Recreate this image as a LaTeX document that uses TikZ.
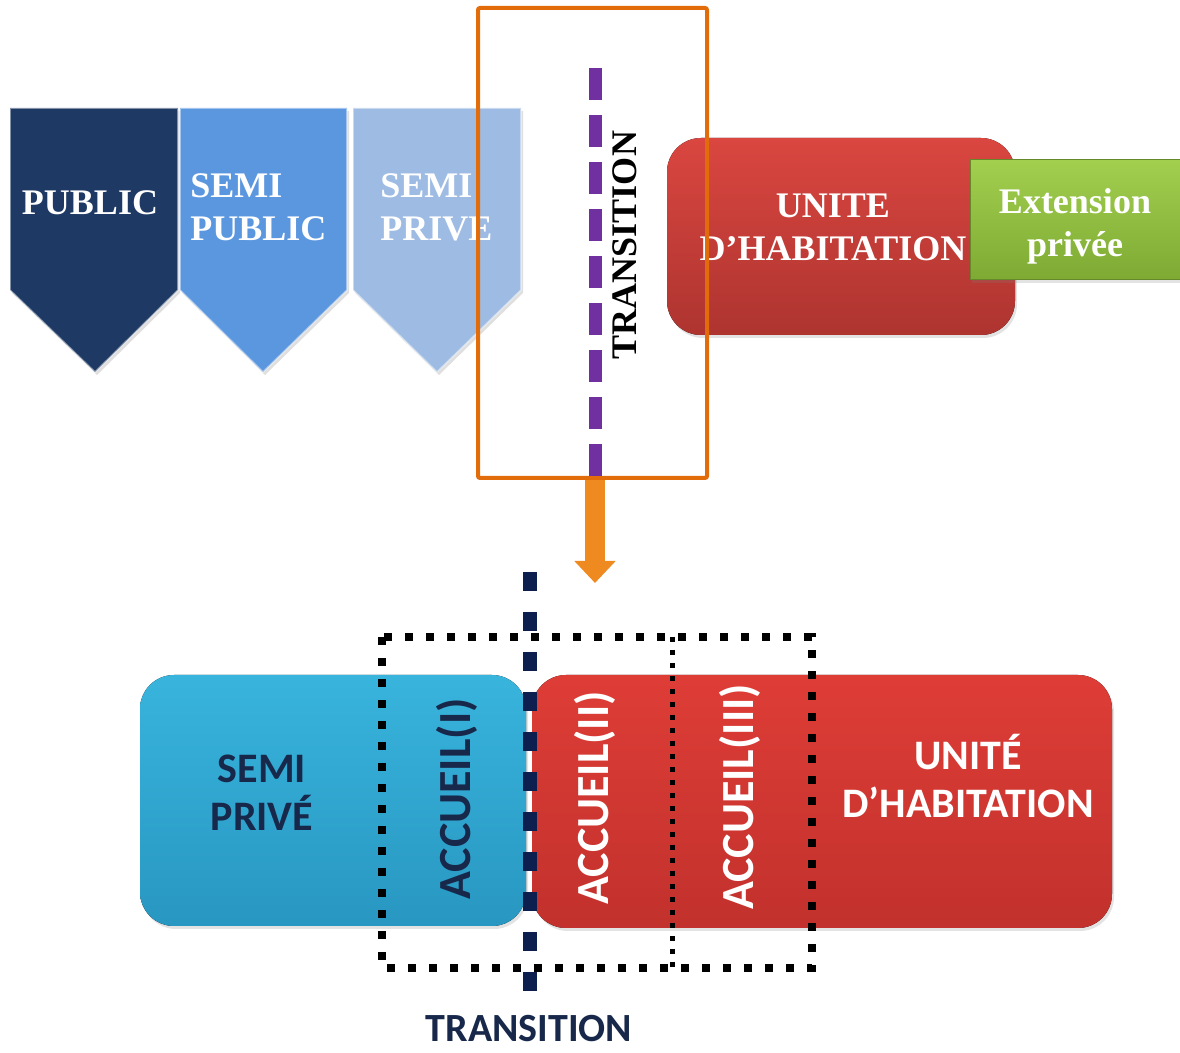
\documentclass[tikz,border=0pt]{standalone}
\usepackage{fontspec}
\setmainfont{Liberation Serif}
\newfontfamily\calfont{Carlito}
\usetikzlibrary{arrows.meta,shadows}
\definecolor{chevA}{HTML}{1E3A64}
\definecolor{chevB}{HTML}{5B97DF}
\definecolor{chevC}{HTML}{9EBCE3}
\definecolor{frameor}{HTML}{E36C0A}
\definecolor{purpl}{HTML}{7030A0}
\definecolor{arrowor}{HTML}{EE8A20}
\definecolor{navyd}{HTML}{0D1F4F}
\definecolor{navyt}{HTML}{17284A}
\definecolor{redtopA}{HTML}{DA4640}
\definecolor{redtopB}{HTML}{AE3430}
\definecolor{greenA}{HTML}{A2CF4E}
\definecolor{greenB}{HTML}{7EAA34}
\definecolor{cyanA}{HTML}{38B4DD}
\definecolor{cyanB}{HTML}{2897C1}
\definecolor{redbotA}{HTML}{DE3D36}
\definecolor{redbotB}{HTML}{C2312D}
\tikzset{chev/.style={draw=white, draw opacity=0.45, line width=0.8pt,
                      drop shadow={opacity=0.25, shadow xshift=1pt, shadow yshift=-1.5pt}},
         chevtxt/.style={text=white, inner sep=0pt, font=\fontsize{18}{21.5}\selectfont\bfseries},
         redtop/.style={rounded corners=17pt, top color=redtopA, bottom color=redtopB,
                        drop shadow={opacity=0.22, shadow xshift=1pt, shadow yshift=-1.5pt}},
         greenbox/.style={top color=greenA, bottom color=greenB,
                          draw=greenB!80!black, line width=0.5pt,
                          drop shadow={opacity=0.22, shadow xshift=1pt, shadow yshift=-1.5pt}},
         cyanbox/.style={rounded corners=17pt, top color=cyanA, bottom color=cyanB,
                         drop shadow={opacity=0.22, shadow xshift=1pt, shadow yshift=-1.5pt}},
         redbot/.style={rounded corners=17pt, top color=redbotA, bottom color=redbotB,
                        drop shadow={opacity=0.22, shadow xshift=1pt, shadow yshift=-1.5pt}},
         sanstxt/.style={inner sep=0pt, font=\calfont\bfseries\fontsize{21}{24}\selectfont},
         acctxt/.style={inner sep=0pt, rotate=90, font=\calfont\bfseries\fontsize{23}{26}\selectfont}}

\begin{document}
\begin{tikzpicture}[x=0.5pt, y=-0.5pt]
  \useasboundingbox (0,0) rectangle (1180,1053);

  % ---------- the three chevrons ----------
  \draw[chev, fill=chevA] (10,108) -- (178,108) -- (178,290) -- (95,372) -- (10,290) -- cycle;
  \draw[chev, fill=chevB] (180,108) -- (347,108) -- (347,290) -- (263,372) -- (180,290) -- cycle;
  \draw[chev, fill=chevC] (353,108) -- (521,108) -- (521,290) -- (437,372) -- (353,290) -- cycle;
  \node[chevtxt] (public) at (90,203){PUBLIC};
  \node[chevtxt, anchor=west, align=left] (semipub) at (190,207.5){SEMI\\PUBLIC};
  \node[chevtxt, anchor=west, align=left] (semipriv) at (380,207.5){SEMI\\PRIVE};

  % ---------- the dwelling and its extension ----------
  \fill[redtop] (667,138) rectangle (1015,335);
  \node[chevtxt, align=center] (unitetop) at (833,227){UNITE\\D’HABITATION};
  \draw[greenbox] (970,160) rectangle (1180,280);
  \node[chevtxt, align=center] (extpriv) at (1075,226){Extension\\privée};

  % ---------- transition frame ----------
  \node[draw=frameor, line width=2pt, rounded corners=1pt, minimum width=114.5pt, minimum height=235pt]
        (trframe) at (592.5,243){};
  \coordinate (trtop) at (595,68);
  \draw[purpl, line width=6.5pt, dash pattern=on 16pt off 7.5pt] (trtop) -- (trtop |- trframe.south);
  \node[chevtxt, text=black, rotate=90] (trlbl) at (625,245){TRANSITION};

  % ---------- zoom arrow ----------
  \coordinate (arrtip) at (595,583);
  \draw[arrowor, line width=10pt, -{Triangle[width=20pt,length=11pt]}] (trtop |- trframe.south) -- (arrtip);

  % ---------- the detailed transition ----------
  \fill[cyanbox] (140,675) rectangle (526,926);
  \fill[redbot] (532,675) rectangle (1112,928);
  \node[sanstxt, text=navyt, align=center] (semiprivbas) at (262,793){SEMI\\PRIVÉ};
  \node[sanstxt, text=white, align=center] (unitebas) at (968,776){UNITÉ\\D’HABITATION};
  \node[acctxt, text=navyt] (acc1) at (457,799){ACCUEIL(I)};
  \node[acctxt, text=white] (acc2) at (595,798){ACCUEIL(II)};
  \node[acctxt, text=white] (acc3) at (740,797){ACCUEIL(III)};

  % dotted frames of the reception zones
  \draw[line width=4pt, dash pattern=on 4pt off 6.5pt] (382,637) rectangle (812,968);
  \draw[line width=2.5pt, dash pattern=on 2.5pt off 4pt] (672,637) -- (672,968);

  % transition line
  \coordinate (lntop) at (530,572);
  \coordinate (lnbot) at (530,995);
  \draw[navyd, line width=7pt, dash pattern=on 9.5pt off 10.5pt] (lntop) -- (lnbot);
  \node[sanstxt, text=navyt, font=\calfont\bfseries\fontsize{20}{24}\selectfont] (trbas) at (529,1029){TRANSITION};

\end{tikzpicture}
\end{document}
